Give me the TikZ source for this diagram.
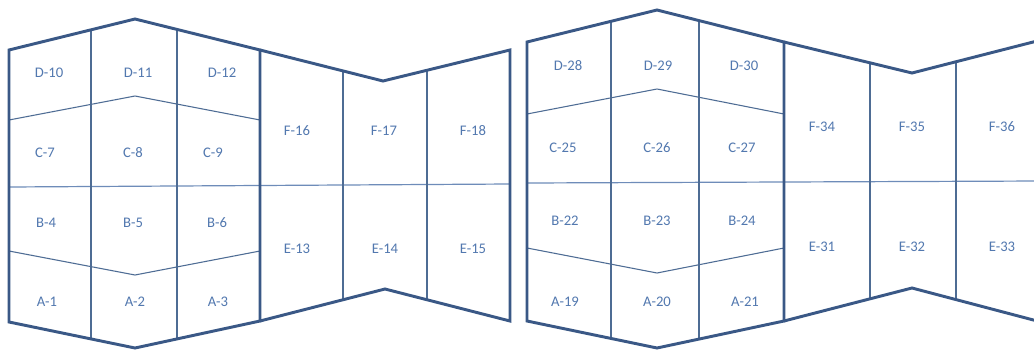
\documentclass[tikz,border=0pt]{standalone}
\usepackage{fontspec}
\setmainfont{Carlito}
\definecolor{edgeblue}{RGB}{58,88,134}
\definecolor{thinblue}{RGB}{78,108,148}
\definecolor{midblue}{RGB}{110,140,185}
\definecolor{txtblue}{RGB}{82,120,175}
\tikzset{
  outer/.style={draw=edgeblue,line width=2.2pt,line join=miter},
  inner/.style={draw=thinblue,line width=0.8pt},
  midline/.style={draw=midblue,line width=0.9pt},
  cell/.style={text=txtblue,font=\fontsize{11}{13}\selectfont,inner sep=0pt}
}
\begin{document}
\begin{tikzpicture}[x={(0.75pt,0)},y={(0,-0.75pt)}]
\useasboundingbox (0,0) rectangle (1034,350);
\fill[white] (0,0) rectangle (1034,350);
\clip (0,0) rectangle (1034,350);

% ---------- left panel ----------
\draw[inner] (9,120) -- (135,96) -- (260,120);
\draw[midline] (9,187) -- (510,184);
\draw[inner] (9,251) -- (135,275) -- (260,251);
\draw[inner] (91,29.8) -- (91,338.9);
\draw[inner] (177,29.4) -- (177,338.9);
\draw[inner] (343,70.9) -- (343,299.8);
\draw[inner] (427,70.3) -- (427,299.8);
\draw[outer] (9,50) -- (135,19) -- (260,50) -- (260,321) -- (135,348) -- (9,322) -- cycle;
\draw[outer] (260,50) -- (383,81) -- (510,50) -- (510,321) -- (385,289) -- (260,321);

\node[cell] (d10) at (49,73) {D-10};
\node[cell] (d11) at (138,73) {D-11};
\node[cell] (d12) at (222,73) {D-12};
\node[cell] (c7) at (45,153) {C-7};
\node[cell] (c8) at (133,153) {C-8};
\node[cell] (c9) at (213,153) {C-9};
\node[cell] (b4) at (46,223) {B-4};
\node[cell] (b5) at (133,223) {B-5};
\node[cell] (b6) at (217,223) {B-6};
\node[cell] (a1) at (47,302) {A-1};
\node[cell] (a2) at (135,302) {A-2};
\node[cell] (a3) at (218,302) {A-3};
\node[cell] (f16) at (297,131) {F-16};
\node[cell] (f17) at (384,131) {F-17};
\node[cell] (f18) at (473,131) {F-18};
\node[cell] (e13) at (297,249) {E-13};
\node[cell] (e14) at (385,249) {E-14};
\node[cell] (e15) at (473,249) {E-15};

% ---------- right panel ----------
\draw[inner] (527,114) -- (657,89) -- (784,114);
\draw[midline] (527,183) -- (1041,181);
\draw[inner] (527,248) -- (657,273) -- (784,248);
\draw[inner] (611,21.3) -- (611,338.4);
\draw[inner] (699,20.6) -- (699,339.1);
\draw[inner] (870,62.8) -- (870,298.8);
\draw[inner] (956,61.7) -- (956,299.6);
\draw[outer] (527,42) -- (657,10) -- (784,42) -- (784,321) -- (657,348) -- (527,321) -- cycle;
\draw[outer] (784,42) -- (912,73) -- (1041,40) -- (1041,322) -- (912,288) -- (784,321);

\node[cell] (d28) at (568,66) {D-28};
\node[cell] (d29) at (658,66) {D-29};
\node[cell] (d30) at (744,66) {D-30};
\node[cell] (c25) at (563,148) {C-25};
\node[cell] (c26) at (657,148) {C-26};
\node[cell] (c27) at (742,148) {C-27};
\node[cell] (b22) at (565,221) {B-22};
\node[cell] (b23) at (657,221) {B-23};
\node[cell] (b24) at (742,221) {B-24};
\node[cell] (a19) at (565,302) {A-19};
\node[cell] (a20) at (657,302) {A-20};
\node[cell] (a21) at (745,302) {A-21};
\node[cell] (f34) at (822,127) {F-34};
\node[cell] (f35) at (912,127) {F-35};
\node[cell] (f36) at (1002,127) {F-36};
\node[cell] (e31) at (822,247) {E-31};
\node[cell] (e32) at (912,247) {E-32};
\node[cell] (e33) at (1002,247) {E-33};
\end{tikzpicture}
\end{document}
